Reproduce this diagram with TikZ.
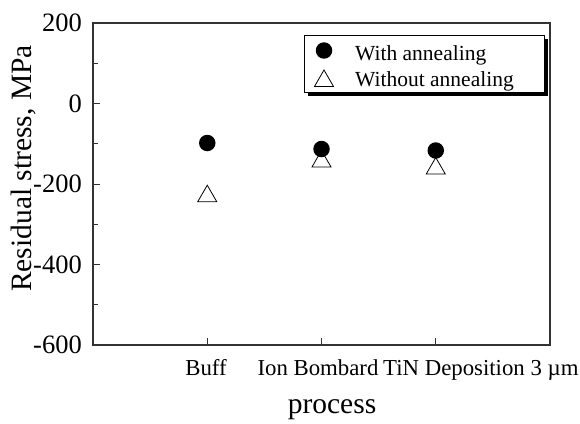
\documentclass[tikz,border=0pt]{standalone}
\usepackage{fontspec}
\setmainfont{Liberation Serif}
\usetikzlibrary{shapes.geometric}
\begin{document}
\begin{tikzpicture}[x=1pt,y=-1pt,
  axisline/.style={line width=1.1pt, black!80},
  tickline/.style={line width=0.8pt, black!80},
  ticklabel/.style={font=\fontsize{26.5}{26.5}\selectfont, anchor=east, inner sep=0pt},
  catlabel/.style={font=\fontsize{22.8}{22.8}\selectfont, anchor=base, inner sep=0pt},
  axtitle/.style={font=\fontsize{29.5}{29.5}\selectfont, inner sep=0pt, anchor=base},
  legtext/.style={font=\fontsize{21.5}{21.5}\selectfont, inner sep=0pt, anchor=base west},
  dotmark/.style={circle, fill=black, minimum size=16.5pt, inner sep=0pt},
  trimark/.style={regular polygon, regular polygon sides=3, draw=black, fill=white, line width=0.8pt, minimum size=22pt, inner sep=0pt}]
\useasboundingbox (0,0) rectangle (580,423);
% axes frame
\draw[axisline] (93,23) rectangle (550,345);
% y ticks
\foreach \yy in {23,103.5,184,264.5,345} \draw[tickline] (93,\yy) -- ++(7,0);
\foreach \yy in {63.25,143.75,224.25,304.75} \draw[tickline] (93,\yy) -- ++(5,0);
% x ticks
\foreach \xx in {207.25,321.5,435.75} \draw[tickline] (\xx,345) -- ++(0,-7);
% tick labels
\node[ticklabel] (y200) at (82,23) {200};
\node[ticklabel] (y0) at (82,103.5) {0};
\node[ticklabel] (ym200) at (82,184) {-200};
\node[ticklabel] (ym400) at (82,264.5) {-400};
\node[ticklabel] (ym600) at (82,345) {-600};
% category labels
\node[catlabel] (buff) at (206,375) {Buff};
\node[catlabel] (ion) at (318,375) {Ion Bombard};
\node[catlabel, anchor=base west] (tin) at (383,375) {TiN Deposition 3 µm};
% axis titles
\node[axtitle] (xtitle) at (332,413) {process};
\node[axtitle, rotate=90] (ytitle) at (31.5,168.5) {Residual stress, MPa};
% data: without annealing (triangles)
\node[trimark] (t1) at (207.25,196.2) {};
\node[trimark] (t2) at (321.5,161.5) {};
\node[trimark] (t3) at (435.75,168.5) {};
% data: with annealing (circles)
\node[dotmark] (c1) at (207.25,143) {};
\node[dotmark] (c2) at (321.5,149) {};
\node[dotmark] (c3) at (435.75,150.5) {};
% legend
\fill[black] (308,39) rectangle (548,96);
\draw[fill=white, line width=0.8pt] (304,35) rectangle (544,92);
\node[dotmark] (lc) at (324,50.5) {};
\node[trimark] (lt) at (324,81) {};
\node[legtext] (l1) at (355,60) {With annealing};
\node[legtext] (l2) at (355,86) {Without annealing};
\end{tikzpicture}
\end{document}
